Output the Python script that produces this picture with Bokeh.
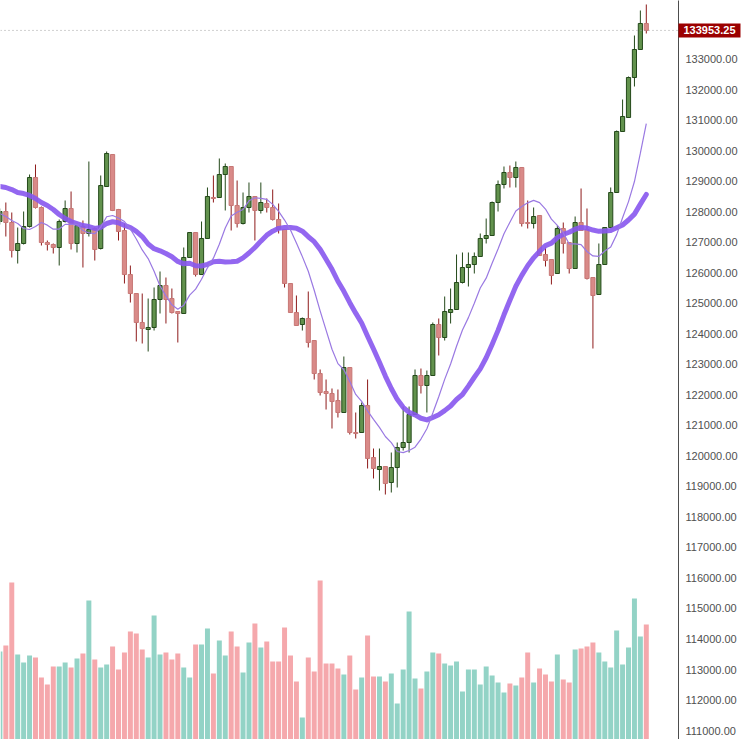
import numpy as np
import pandas as pd
from bokeh.plotting import figure
from bokeh.models import (ColumnDataSource, Range1d, Span, Label,
                          SingleIntervalTicker, NumeralTickFormatter)
from bokeh.embed import file_html
from bokeh.resources import INLINE

# ---------------- data ----------------
open_ = [127688, 128016, 127655, 126737, 126967, 127524, 129131, 128147, 127000, 126934,
         126836, 127688, 128114, 126967, 127524, 127295, 127459, 126803, 128836, 129885,
         128082, 127393, 125950, 125327, 124377, 124147, 124213, 125131, 125590, 125163,
         124737, 124672, 126508, 127327, 125950, 127131, 128475, 128475, 129229, 129491,
         128213, 127622, 128147, 128508, 128049, 128278, 128147, 127754, 127426, 125655,
         124704, 124311, 124508, 123786, 122704, 122114, 122049, 121819, 121426, 122901,
         120770, 120770, 121655, 119950, 119557, 119655, 119131, 119622, 120278, 120442,
         121360, 122639, 122311, 122639, 124311, 123885, 124704, 124803, 125688, 126180,
         126278, 126541, 127131, 127229, 128311, 128901, 129295, 129131, 129459, 127655,
         127622, 127885, 126606, 126442, 125983, 127459, 127000, 126147, 127655, 127426,
         125852, 125295, 126278, 127491, 128639, 130639, 131098, 132409, 133327, 134180]

high = [128114, 128311, 127983, 127491, 128016, 129229, 129557, 128180, 127065, 126967,
        127754, 128377, 128672, 127622, 127721, 129655, 127491, 129196, 129983, 129900,
        128100, 127622, 126245, 125340, 125327, 125163, 125524, 126049, 125852, 125491,
        124750, 126836, 127340, 127340, 127688, 128803, 129196, 129754, 129590, 129500,
        129032, 128639, 128967, 128520, 128967, 128442, 128737, 128278, 127440, 125665,
        125262, 124541, 125393, 123800, 122836, 122508, 122213, 122180, 123262, 122915,
        121426, 121754, 122508, 120245, 120245, 119670, 120114, 120442, 121622, 121622,
        122836, 122868, 122803, 124377, 124508, 125229, 125491, 126606, 126672, 126672,
        126672, 127295, 127786, 128344, 129032, 129491, 129524, 129655, 129470, 128377,
        128147, 127900, 126836, 126455, 127557, 127655, 127010, 127852, 128770, 128114,
        125865, 126967, 127500, 128803, 130672, 131688, 132442, 133786, 134606, 134803]

low = [127590, 127196, 126508, 126311, 126934, 127491, 128114, 126901, 126737, 126639,
       126245, 127655, 126770, 126672, 126180, 127196, 126409, 126770, 128836, 128030,
       127065, 125655, 125032, 123754, 123688, 123426, 124114, 124672, 124344, 124672,
       123721, 124660, 126500, 125885, 125940, 127120, 128311, 128465, 128049, 127393,
       127491, 127590, 127983, 127065, 127950, 127983, 127721, 127295, 125524, 124690,
       124265, 124114, 123557, 122508, 121983, 121524, 120901, 121262, 121415, 120704,
       120573, 120760, 119590, 119262, 118868, 118737, 118803, 118967, 120180, 120114,
       121350, 122049, 121426, 122630, 123295, 123786, 124344, 124790, 125655, 125557,
       125983, 126530, 126967, 127220, 128016, 128770, 128803, 128803, 127524, 127459,
       127459, 126560, 126213, 125623, 125970, 126639, 125983, 126135, 127380, 125786,
       123524, 125285, 126265, 127480, 128625, 130625, 131085, 132114, 133315, 133852]

close = [128016, 127655, 126737, 126967, 127524, 129131, 128147, 127000, 126934, 126836,
         127688, 128114, 126967, 127557, 127295, 127426, 126770, 128868, 129918, 128049,
         127360, 125950, 125327, 124377, 124180, 124213, 125131, 125590, 125131, 124704,
         124672, 126508, 127327, 125950, 127131, 128508, 128442, 129229, 129491, 128213,
         127622, 128147, 128508, 128049, 128311, 128147, 127754, 127426, 125655, 124704,
         124278, 124508, 123721, 122704, 122082, 122049, 121786, 121426, 122901, 120770,
         120737, 121655, 119918, 119590, 119655, 119098, 119622, 120278, 120442, 121360,
         122639, 122311, 122639, 124311, 123885, 124737, 124803, 125688, 126180, 126278,
         126541, 127131, 127229, 128311, 128901, 129295, 129131, 129459, 127622, 127622,
         127852, 126573, 126409, 125918, 127459, 126967, 126147, 127655, 127393, 125819,
         125262, 126278, 127491, 128639, 130639, 131131, 132409, 133327, 134180, 133953.25]

volume = [88, 94, 157, 85, 77, 84, 82, 62, 55, 73,
          73, 77, 72, 81, 86, 139, 80, 72, 75, 93,
          70, 87, 108, 106, 90, 82, 124, 85, 87, 80,
          86, 72, 62, 95, 95, 111, 66, 99, 84, 108,
          93, 67, 97, 116, 92, 98, 78, 78, 112, 84,
          58, 22, 82, 68, 159, 76, 76, 71, 65, 84,
          50, 62, 104, 63, 63, 58, 66, 36, 70, 128,
          61, 51, 68, 87, 86, 76, 74, 78, 48, 70,
          70, 55, 73, 64, 57, 47, 56, 54, 62, 87,
          57, 71, 65, 58, 85, 60, 57, 90, 91, 93,
          97, 87, 78, 72, 109, 75, 92, 141, 103, 115]

# moving-average values before enough bars exist in the window
ma_fast_head = [127950, 127852, 127721, 127622, 127459, 127426, 127524, 127655]
ma_slow_head = [128836, 128803, 128737, 128639, 128606, 128541, 128442, 128311, 128213,
                128082, 127918, 127786, 127688, 127622, 127557, 127524, 127459, 127491,
                127622]
fast_period = 9
slow_period = 20
last_price = 133953.25

# ---------------- derived ----------------
n = len(close)
idx = np.arange(1, n + 1)
o = np.array(open_, dtype=float)
c = np.array(close, dtype=float)
h = np.array(high, dtype=float)
l = np.array(low, dtype=float)
up = c >= o

cs = pd.Series(c)
ma_fast = cs.rolling(fast_period).mean().to_numpy()
ma_fast[:fast_period - 1] = ma_fast_head
ma_slow = cs.rolling(slow_period).mean().to_numpy()
ma_slow[:slow_period - 1] = ma_slow_head

UP_FILL, UP_LINE = "#62924d", "#24491a"
DN_FILL, DN_LINE, DN_WICK = "#d98a88", "#c77775", "#8e1b1b"
VOL_UP, VOL_DN = "#93d3c6", "#f5a8ac"

src = ColumnDataSource(dict(
    x=idx, top=np.maximum(o, c), bottom=np.minimum(o, c), high=h, low=l,
    fill=[UP_FILL if u else DN_FILL for u in up],
    line=[UP_LINE if u else DN_LINE for u in up],
    wick=[UP_LINE if u else DN_WICK for u in up],
    vol=volume, vcol=[VOL_UP if u else VOL_DN for u in up],
    ma_fast=ma_fast, ma_slow=ma_slow,
))

p = figure(frame_width=678, frame_height=739,
           x_range=Range1d(1.10, 115.43), y_range=Range1d(110705, 134934),
           y_axis_location="right", x_axis_location=None,
           toolbar_location=None, output_backend="svg", min_border=0,
           background_fill_color="white", border_fill_color="white",
           outline_line_color=None)
p.grid.visible = False
p.extra_y_ranges = {"vol": Range1d(0, 739)}

# volume
p.vbar(x="x", top="vol", bottom=0, width=0.84, fill_color="vcol", line_color=None,
       y_range_name="vol", source=src)

# candles
p.segment(x0="x", y0="high", x1="x", y1="low", line_color="wick", line_width=1, source=src)
p.vbar(x="x", top="top", bottom="bottom", width=0.7, fill_color="fill",
       line_color="line", line_width=1, source=src)

# moving averages
p.line(x="x", y="ma_slow", line_color="#8757ee", line_width=5, line_alpha=0.9,
       line_cap="round", line_join="round", source=src)
p.line(x="x", y="ma_fast", line_color="#9a79e2", line_width=1.2, source=src)

# last price line
p.add_layout(Span(location=last_price, dimension="width", line_color="#a0a0a0",
                  line_dash="1 3", line_width=1))

ax = p.yaxis[0]
ax.ticker = SingleIntervalTicker(interval=1000, num_minor_ticks=0)
ax.formatter = NumeralTickFormatter(format="0.00")
ax.major_label_text_font = "Liberation Sans"
ax.major_label_text_font_size = "11px"
ax.major_label_text_color = "#505050"
ax.axis_line_color = "#4d4d4d"
ax.major_tick_in = 0
ax.major_tick_out = 0
ax.minor_tick_in = 0
ax.minor_tick_out = 0
ax.major_label_standoff = 7

# last price label, placed in the right side panel (not clipped to the frame)
price_label = Label(x=-62, y=last_price, x_units="screen", y_units="data",
                    text=f"{last_price:.2f}", text_color="white",
                    text_font="Liberation Sans", text_font_size="11px",
                    text_font_style="bold", text_baseline="middle", text_align="left",
                    background_fill_color="#9b0000",
                    padding=dict(left=5, right=5, top=3, bottom=3))
p.add_layout(price_label, "right")

open("out.html", "w").write(file_html(p, INLINE))
